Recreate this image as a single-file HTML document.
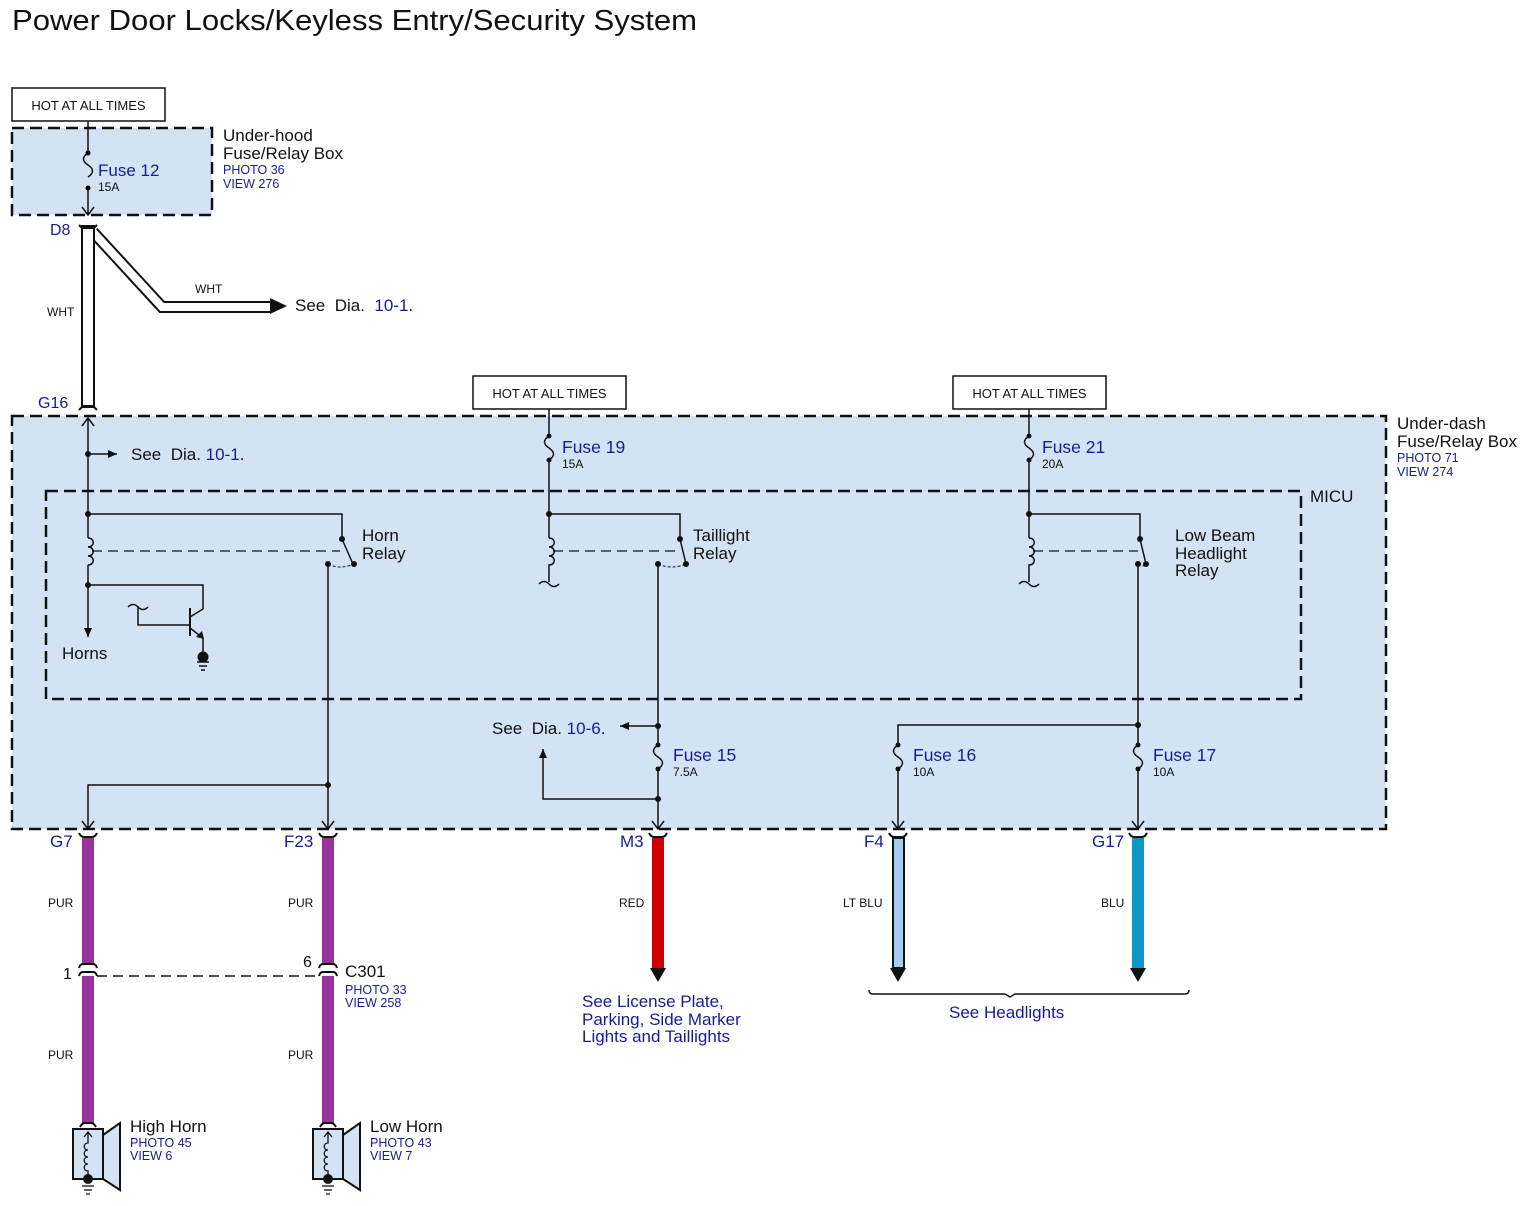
<!DOCTYPE html>
<html><head><meta charset="utf-8"><style>
html,body{margin:0;padding:0;background:#fff}
svg{display:block}
text{font-family:"Liberation Sans",Arial,sans-serif}
.b{fill:#1a1a99}
.k{fill:#111}
</style></head><body>
<svg width="1535" height="1206" viewBox="0 0 1535 1206" xmlns="http://www.w3.org/2000/svg">
<defs>
<marker id="ah" markerWidth="10" markerHeight="10" refX="9" refY="5" orient="auto" markerUnits="userSpaceOnUse"><path d="M0,1 L9,5 L0,9 Z" fill="#111"/></marker>
<marker id="av" markerWidth="14" markerHeight="14" refX="11" refY="7" orient="auto-start-reverse" markerUnits="userSpaceOnUse"><path d="M3,1 L11,7 L3,13" fill="none" stroke="#111" stroke-width="1.5"/></marker>
</defs>
<text x="12" y="30" font-size="29" class="k" textLength="685" lengthAdjust="spacingAndGlyphs">Power Door Locks/Keyless Entry/Security System</text>

<!-- Under-hood box -->
<rect x="12" y="88" width="153" height="33" fill="#fff" stroke="#111" stroke-width="1.5"/>
<text x="88.5" y="110" font-size="13" text-anchor="middle" class="k">HOT AT ALL TIMES</text>
<rect x="12" y="128" width="200" height="87" fill="#d3e3f4" stroke="#111" stroke-width="2.5" stroke-dasharray="12,6"/>
<line x1="88" y1="121" x2="88" y2="153" stroke="#111" stroke-width="1.5"/>
<path d="M88,153 c-6,4 -6,8 0,12 c6,4 6,8 0,12" fill="none" stroke="#111" stroke-width="1.5"/>
<circle cx="88" cy="153" r="2.5"/><circle cx="88" cy="188" r="2.5"/>
<line x1="88" y1="188" x2="88" y2="215" stroke="#111" stroke-width="1.5" marker-end="url(#av)"/>
<text x="98" y="176" font-size="17" class="b">Fuse 12</text>
<text x="98" y="191" font-size="12" class="k">15A</text>
<text x="223" y="141" font-size="17" class="k">Under-hood</text>
<text x="223" y="159" font-size="17" class="k">Fuse/Relay Box</text>
<text x="223" y="174" font-size="12.5" class="b">PHOTO 36</text>
<text x="223" y="188" font-size="12.5" class="b">VIEW 276</text>

<!-- WHT wire -->
<path d="M93,232 L162,307 L272,307" fill="none" stroke="#111" stroke-width="12"/>
<path d="M93,232 L162,307 L272,307" fill="none" stroke="#fff" stroke-width="8"/>
<path d="M270,298 L287,306 L270,314 Z" fill="#111"/>
<rect x="82" y="226" width="12" height="180" fill="#fff" stroke="#111" stroke-width="2"/>
<path d="M79,225 q3,3 3,3 L94,228 q3,-3 3,-3" fill="none" stroke="#111" stroke-width="2"/>
<path d="M79,410 q3,-3 3,-3 L94,407 q3,3 3,3" fill="none" stroke="#111" stroke-width="2"/>
<text x="50" y="235" font-size="16" class="b">D8</text>
<text x="38" y="408" font-size="16" class="b">G16</text>
<text x="47" y="316" font-size="12" class="k">WHT</text>
<text x="195" y="293" font-size="12" class="k">WHT</text>
<text x="295" y="311" font-size="17" class="k">See&#160; Dia.&#160; <tspan class="b">10-1</tspan>.</text>

<!-- Under-dash box -->
<rect x="12" y="416" width="1374" height="413" fill="#d3e3f4" stroke="#111" stroke-width="2.5" stroke-dasharray="12,6"/>
<rect x="46" y="491" width="1255" height="208" fill="none" stroke="#111" stroke-width="2.5" stroke-dasharray="12,6"/>
<text x="1310" y="502" font-size="17" class="k">MICU</text>
<text x="1397" y="429" font-size="17" class="k">Under-dash</text>
<text x="1397" y="447" font-size="17" class="k">Fuse/Relay Box</text>
<text x="1397" y="462" font-size="12.5" class="b">PHOTO 71</text>
<text x="1397" y="476" font-size="12.5" class="b">VIEW 274</text>

<rect x="473" y="376" width="153" height="33" fill="#fff" stroke="#111" stroke-width="1.5"/>
<text x="549.5" y="398" font-size="13" text-anchor="middle" class="k">HOT AT ALL TIMES</text>
<rect x="953" y="376" width="153" height="33" fill="#fff" stroke="#111" stroke-width="1.5"/>
<text x="1029.5" y="398" font-size="13" text-anchor="middle" class="k">HOT AT ALL TIMES</text>

<g stroke="#111" stroke-width="1.5" fill="none">
<!-- horn section -->
<line x1="88" y1="418" x2="88" y2="538" marker-start="url(#av)"/>
<line x1="88" y1="454" x2="117" y2="454" marker-end="url(#ah)"/>
<path d="M88,514 H342 V539"/>
<path d="M88,538 c7,0 7,9 0,9 c7,0 7,9 0,9 c7,0 7,9 0,9"/>
<line x1="88" y1="565" x2="88" y2="637" marker-end="url(#ah)"/>
<line x1="92" y1="551" x2="340" y2="551" stroke-dasharray="10,6" stroke-width="1.2"/>
<path d="M342,539 L353,564"/>
<path d="M328,564 q12,6 26,0" stroke-dasharray="3,2" stroke-width="1"/>
<line x1="328" y1="564" x2="328" y2="829" marker-end="url(#av)"/>
<path d="M328,785 H88 V829" marker-end="url(#av)"/>
<!-- transistor -->
<path d="M88,585 H203 V609 L190,617"/>
<line x1="190" y1="608" x2="190" y2="636" stroke-width="2"/>
<path d="M190,625 H138 V606"/>
<path d="M128,607 q5,-5 10,0 q5,5 10,0"/>
<path d="M190,628 L203,638 V652"/>
<line x1="197" y1="662" x2="209" y2="662"/><line x1="199" y1="666" x2="207" y2="666"/><line x1="201" y1="670" x2="205" y2="670"/>

<!-- fuse 19 / taillight -->
<line x1="549" y1="409" x2="549" y2="436"/>
<path d="M549,436 c-6,4 -6,8 0,12 c6,4 6,8 0,12 M549,460 V538"/>
<path d="M549,514 H680 V539"/>
<path d="M549,538 c7,0 7,9 0,9 c7,0 7,9 0,9 c7,0 7,9 0,9 V582"/>
<path d="M539,584 q5,-5 10,0 q5,5 10,0"/>
<line x1="553" y1="551" x2="678" y2="551" stroke-dasharray="10,6" stroke-width="1.2"/>
<path d="M680,539 L686,564"/>
<path d="M658,564 q14,6 28,0" stroke-dasharray="3,2" stroke-width="1"/>
<line x1="658" y1="564" x2="658" y2="745"/>
<line x1="658" y1="726" x2="620" y2="726" marker-end="url(#ah)"/>
<path d="M658,745 c-6,4 -6,8 0,12 c6,4 6,8 0,12"/>
<path d="M658,769 V829" marker-end="url(#av)"/>
<path d="M658,799 H543 V749" marker-end="url(#ah)"/>

<!-- fuse 21 / low beam -->
<line x1="1029" y1="409" x2="1029" y2="436"/>
<path d="M1029,436 c-6,4 -6,8 0,12 c6,4 6,8 0,12 M1029,460 V538"/>
<path d="M1029,514 H1140 V539"/>
<path d="M1029,538 c7,0 7,9 0,9 c7,0 7,9 0,9 c7,0 7,9 0,9 V582"/>
<path d="M1019,584 q5,-5 10,0 q5,5 10,0"/>
<line x1="1033" y1="551" x2="1138" y2="551" stroke-dasharray="10,6" stroke-width="1.2"/>
<path d="M1140,539 L1146,564"/>
<path d="M1138,564 q4,4 8,0" stroke-dasharray="3,2" stroke-width="1"/>
<line x1="1138" y1="564" x2="1138" y2="745"/>
<path d="M1138,725 H898 V745"/>
<path d="M1138,745 c-6,4 -6,8 0,12 c6,4 6,8 0,12 V829" marker-end="url(#av)"/>
<path d="M898,745 c-6,4 -6,8 0,12 c6,4 6,8 0,12 V829" marker-end="url(#av)"/>
</g>
<g fill="#111">
<circle cx="88" cy="454" r="3"/><circle cx="88" cy="514" r="3"/><circle cx="88" cy="585" r="3"/>
<circle cx="342" cy="539" r="3"/><circle cx="354" cy="564" r="3"/><circle cx="328" cy="564" r="3"/><circle cx="328" cy="785" r="3"/>
<path d="M196,637 l8,2 l-2,-8 Z"/>
<circle cx="203" cy="657" r="5.5"/>
<circle cx="549" cy="436" r="2.5"/><circle cx="549" cy="460" r="2.5"/><circle cx="549" cy="514" r="3"/>
<circle cx="680" cy="539" r="3"/><circle cx="686" cy="564" r="3"/><circle cx="658" cy="564" r="3"/>
<circle cx="658" cy="726" r="3"/><circle cx="658" cy="745" r="2.5"/><circle cx="658" cy="769" r="2.5"/><circle cx="658" cy="799" r="3"/>
<circle cx="1029" cy="436" r="2.5"/><circle cx="1029" cy="460" r="2.5"/><circle cx="1029" cy="514" r="3"/>
<circle cx="1140" cy="539" r="3"/><circle cx="1146" cy="564" r="3"/><circle cx="1138" cy="564" r="3"/>
<circle cx="1138" cy="725" r="3"/><circle cx="1138" cy="745" r="2.5"/><circle cx="1138" cy="769" r="2.5"/>
<circle cx="898" cy="745" r="2.5"/><circle cx="898" cy="769" r="2.5"/>
</g>

<text x="131" y="460" font-size="17" class="k">See&#160; Dia.&#160;<tspan class="b">10-1</tspan>.</text>
<text x="492" y="734" font-size="17" class="k">See&#160; Dia.&#160;<tspan class="b">10-6</tspan>.</text>
<text x="62" y="659" font-size="17" class="k">Horns</text>
<text x="362" y="541" font-size="17" class="k">Horn</text><text x="362" y="559" font-size="17" class="k">Relay</text>
<text x="693" y="541" font-size="17" class="k">Taillight</text><text x="693" y="559" font-size="17" class="k">Relay</text>
<text x="1175" y="541" font-size="17" class="k">Low Beam</text><text x="1175" y="559" font-size="17" class="k">Headlight</text><text x="1175" y="576" font-size="17" class="k">Relay</text>
<text x="562" y="453" font-size="17.5" class="b">Fuse 19</text><text x="562" y="468" font-size="12" class="k">15A</text>
<text x="1042" y="453" font-size="17.5" class="b">Fuse 21</text><text x="1042" y="468" font-size="12" class="k">20A</text>
<text x="673" y="761" font-size="17.5" class="b">Fuse 15</text><text x="673" y="776" font-size="12" class="k">7.5A</text>
<text x="913" y="761" font-size="17.5" class="b">Fuse 16</text><text x="913" y="776" font-size="12" class="k">10A</text>
<text x="1153" y="761" font-size="17.5" class="b">Fuse 17</text><text x="1153" y="776" font-size="12" class="k">10A</text>

<!-- bottom wires -->
<g>
<rect x="82" y="838" width="12" height="125" fill="#993399"/>
<rect x="82" y="976" width="12" height="147" fill="#993399"/>
<rect x="322" y="838" width="12" height="125" fill="#993399"/>
<rect x="322" y="976" width="12" height="147" fill="#993399"/>
<rect x="652" y="838" width="12" height="130" fill="#cc0000"/>
<path d="M650,968 L666,968 L658,982 Z" fill="#111"/>
<rect x="893" y="838" width="11" height="130" fill="#a7cbee" stroke="#111" stroke-width="2"/>
<path d="M890,968 L906,968 L898,982 Z" fill="#111"/>
<rect x="1132" y="838" width="12" height="130" fill="#0e96c4"/>
<path d="M1130,968 L1146,968 L1138,982 Z" fill="#111"/>
</g>
<g fill="none" stroke="#111" stroke-width="2">
<path d="M79,833 q2,4 5,4 h8 q3,0 5,-4"/>
<path d="M319,833 q2,4 5,4 h8 q3,0 5,-4"/>
<path d="M649,833 q2,4 5,4 h8 q3,0 5,-4"/>
<path d="M889,833 q2,4 5,4 h8 q3,0 5,-4"/>
<path d="M1129,833 q2,4 5,4 h8 q3,0 5,-4"/>
<path d="M79,968 q1,-4 4,-4 h10 q3,0 4,4 M79,976 q1,-4 4,-4 h10 q3,0 4,4"/>
<path d="M319,968 q1,-4 4,-4 h10 q3,0 4,4 M319,976 q1,-4 4,-4 h10 q3,0 4,4"/>
<line x1="97" y1="976" x2="318" y2="976" stroke-dasharray="10,6" stroke-width="1.5"/>
<path d="M80,1127 q2,-4 5,-4 h6 q3,0 5,4"/>
<path d="M320,1127 q2,-4 5,-4 h6 q3,0 5,4"/>
<path d="M869,990 q0,4 4,4 h132 l5,3 l5,-3 h170 q4,0 4,-4" stroke-width="1.5"/>
</g>
<text x="50" y="847" font-size="17" class="b">G7</text>
<text x="284" y="847" font-size="17" class="b">F23</text>
<text x="620" y="847" font-size="17" class="b">M3</text>
<text x="864" y="847" font-size="17" class="b">F4</text>
<text x="1092" y="847" font-size="17" class="b">G17</text>
<text x="48" y="907" font-size="12" class="k">PUR</text>
<text x="288" y="907" font-size="12" class="k">PUR</text>
<text x="619" y="907" font-size="12" class="k">RED</text>
<text x="843" y="907" font-size="12" class="k">LT BLU</text>
<text x="1101" y="907" font-size="12" class="k">BLU</text>
<text x="48" y="1059" font-size="12" class="k">PUR</text>
<text x="288" y="1059" font-size="12" class="k">PUR</text>
<text x="63" y="979" font-size="16" class="k">1</text>
<text x="303" y="967" font-size="16" class="k">6</text>
<text x="345" y="977" font-size="17" class="k">C301</text>
<text x="345" y="994" font-size="12.5" class="b">PHOTO 33</text>
<text x="345" y="1007" font-size="12.5" class="b">VIEW 258</text>
<text x="582" y="1007" font-size="17" class="b">See License Plate,</text>
<text x="582" y="1025" font-size="17" class="b">Parking, Side Marker</text>
<text x="582" y="1042" font-size="17" class="b">Lights and Taillights</text>
<text x="949" y="1018" font-size="17" class="b">See Headlights</text>

<!-- horns -->
<g stroke="#111" stroke-width="2">
<rect x="73" y="1129" width="30" height="50" fill="#d3e3f4"/>
<path d="M103,1135 L120,1123 L120,1190 L103,1179 Z" fill="#d3e3f4"/>
<rect x="313" y="1129" width="30" height="50" fill="#d3e3f4"/>
<path d="M343,1135 L360,1123 L360,1190 L343,1179 Z" fill="#d3e3f4"/>
</g>
<g stroke="#111" stroke-width="1.3" fill="none">
<path d="M88,1132 V1143 c-5,0 -5,7 0,7 c-5,0 -5,7 0,7 c-5,0 -5,7 0,7 c-5,0 -5,7 0,7 V1180"/>
<path d="M84,1137 L88,1132 L92,1137"/>
<line x1="82" y1="1186" x2="94" y2="1186"/><line x1="84" y1="1190" x2="92" y2="1190"/><line x1="86" y1="1194" x2="90" y2="1194"/>
<path d="M328,1132 V1143 c-5,0 -5,7 0,7 c-5,0 -5,7 0,7 c-5,0 -5,7 0,7 c-5,0 -5,7 0,7 V1180"/>
<path d="M324,1137 L328,1132 L332,1137"/>
<line x1="322" y1="1186" x2="334" y2="1186"/><line x1="324" y1="1190" x2="332" y2="1190"/><line x1="326" y1="1194" x2="330" y2="1194"/>
</g>
<circle cx="88" cy="1179" r="5" fill="#111"/><circle cx="328" cy="1179" r="5" fill="#111"/>
<text x="130" y="1132" font-size="17" class="k">High Horn</text>
<text x="130" y="1147" font-size="12.5" class="b">PHOTO 45</text>
<text x="130" y="1160" font-size="12.5" class="b">VIEW 6</text>
<text x="370" y="1132" font-size="17" class="k">Low Horn</text>
<text x="370" y="1147" font-size="12.5" class="b">PHOTO 43</text>
<text x="370" y="1160" font-size="12.5" class="b">VIEW 7</text>
</svg>
</body></html>
